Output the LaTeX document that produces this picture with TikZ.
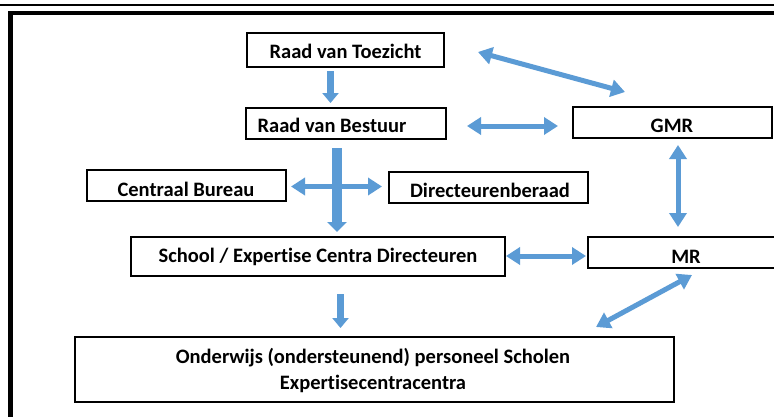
\documentclass[tikz,border=0pt]{standalone}
\usepackage{fontspec}
\setmainfont{Carlito}[Ligatures={NoCommon,NoContextual}]
\usetikzlibrary{arrows.meta}
\definecolor{arrblue}{RGB}{91,155,213}
\begin{document}
\begin{tikzpicture}[x=1pt,y=-1pt,
  box/.style={draw=black,line width=2pt,rectangle,inner sep=0pt},
  lbl/.style={font=\bfseries\fontsize{20.5}{26}\selectfont,inner sep=0pt,anchor=base},
  dbl/.style={draw=arrblue,line width=5pt,{Triangle[length=14pt,width=17pt]}-{Triangle[length=14pt,width=17pt]}},
  downarr/.style={draw=arrblue,line width=7.5pt,-{Triangle[length=10pt,width=16pt]}},
  bigdown/.style={draw=arrblue,line width=10pt,-{Triangle[length=10pt,width=19pt]}}
]
\useasboundingbox (0,0) rectangle (774,416);
\clip (0,0) rectangle (774,416);
\fill[white] (0,0) rectangle (774,416);
% top rule and frame
\draw[line width=2.5pt] (0,5) -- (774,5);
\draw[line width=4.5pt] (10.5,430) -- (10.5,13) -- (790,13);
% boxes
\node[box,minimum width=197pt,minimum height=34pt] (rvt) at (345.5,50) {};
\node[box,minimum width=200pt,minimum height=31pt] (rvb) at (346,123.5) {};
\node[box,minimum width=199pt,minimum height=31pt] (cb) at (186.5,185.5) {};
\node[box,minimum width=199pt,minimum height=31pt] (dir) at (488.5,187.5) {};
\node[box,minimum width=199pt,minimum height=31pt] (gmr) at (672.5,122.5) {};
\node[box,minimum width=202pt,minimum height=31pt] (mr) at (689,252.5) {};
\node[box,minimum width=374pt,minimum height=39pt] (sch) at (318,256.5) {};
\node[box,minimum width=599pt,minimum height=65pt] (ond) at (374.5,369.5) {};
% labels
\node[lbl] (rvtl) at (345.5,58) {Raad van Toezicht};
\node[lbl] (rvbl) at (332,132) {Raad van Bestuur};
\node[lbl] (cbl) at (186,196) {Centraal Bureau};
\node[lbl] (dirl) at (490,197) {Directeurenberaad};
\node[lbl] (gmrl) at (672,132) {GMR};
\node[lbl] (mrl) at (686,263) {MR};
\node[lbl] (schl) at (318,262) {School / Expertise Centra Directeuren};
\node[lbl] (ond1) at (373,363) {Onderwijs (ondersteunend) personeel Scholen};
\node[lbl] (ond2) at (373,389) {Expertisecentracentra};
% arrow end points
\coordinate (a1s) at (rvt.south -| 330.5,0);
\coordinate (a1e) at (330.5,103);
\coordinate (a2s) at (478,52);
\coordinate (a2e) at (625,92);
\coordinate (a3s) at (467,126);
\coordinate (a3e) at (558,126);
\coordinate (a4s) at (337,148);
\coordinate (a4e) at (337,232);
\coordinate (a5s) at (291,186.5);
\coordinate (a5e) at (382,186.5);
\coordinate (a6s) at (678,145);
\coordinate (a6e) at (678,227);
\coordinate (a7s) at (506,256);
\coordinate (a7e) at (586,256);
\coordinate (a8s) at (340.5,294);
\coordinate (a8e) at (340.5,328);
\coordinate (a9s) at (692,275);
\coordinate (a9e) at (596,327);
% arrows
\draw[downarr] ([yshift=-3pt]a1s) -- (a1e);
\draw[dbl] (a2s) -- (a2e);
\draw[dbl] (a3s) -- (a3e);
\draw[bigdown] (a4s) -- (a4e);
\draw[dbl] (a5s) -- (a5e);
\draw[dbl] (a6s) -- (a6e);
\draw[dbl] (a7s) -- (a7e);
\draw[downarr] (a8s) -- (a8e);
\draw[dbl] (a9s) -- (a9e);
\end{tikzpicture}
\end{document}
